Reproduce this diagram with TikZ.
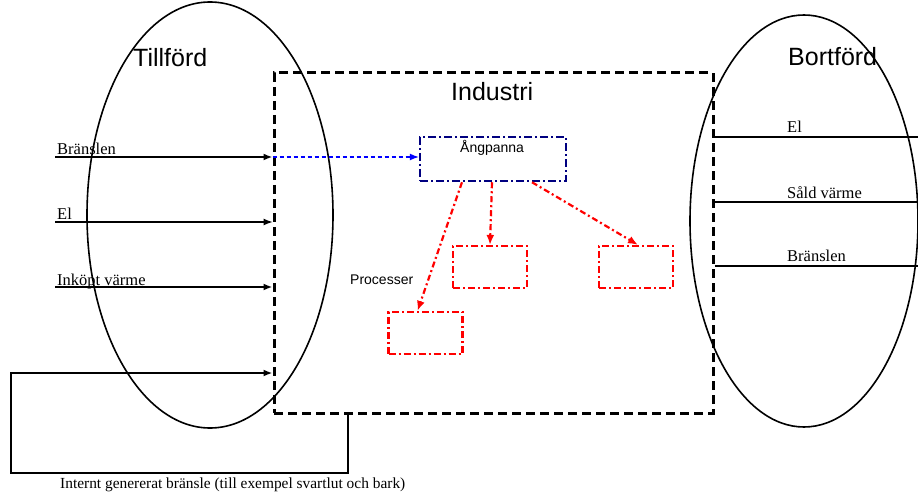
\documentclass[tikz,border=0pt]{standalone}
\usepackage{fontspec}
\setmainfont{Liberation Serif}
\newfontfamily\arialf{Liberation Sans}
\usetikzlibrary{shapes.geometric,arrows.meta}
\begin{document}
\begin{tikzpicture}[x=1pt,y=-1pt,
  oval/.style={draw, ellipse, line width=1.6pt, inner sep=0pt},
  indbox/.style={draw, line width=3pt, dash pattern=on 9pt off 5pt, inner sep=0pt},
  angbox/.style={draw=blue!50!black, line width=2.5pt, dash pattern=on 8pt off 3pt on 2pt off 3pt, inner sep=0pt},
  procbox/.style={draw=red, line width=2.2pt, dash pattern=on 7pt off 3pt on 2pt off 3pt, inner sep=0pt},
  tip/.style={-{Latex[length=9pt,width=7pt]}},
  thickarrow/.style={tip, line width=2.7pt},
  thinarrow/.style={tip, line width=1.1pt},
  outline/.style={line width=2.2pt},
  redarrow/.style={draw=red, line width=2.2pt, dash pattern=on 6pt off 3pt on 2pt off 3pt, -{Latex[length=10pt,width=8pt]}},
  bluearrow/.style={draw=blue, line width=1.1pt, dash pattern=on 4pt off 3pt, -{Latex[length=9pt,width=7pt]}},
  bigsans/.style={font=\arialf\fontsize{25}{30}\selectfont, inner sep=0pt, anchor=base west},
  smallsans/.style={font=\arialf\fontsize{14}{17}\selectfont, inner sep=0pt, anchor=base west},
  serif/.style={font=\fontsize{16.5}{19}\selectfont, inner sep=0pt, anchor=base west},
  serifb/.style={font=\fontsize{15.4}{18}\selectfont, inner sep=0pt, anchor=base west}
]
\useasboundingbox (0,0) rectangle (918,494);

% ellipses
\node[oval, minimum width=246pt, minimum height=426pt] (till) at (210,215) {};
\node[oval, minimum width=228pt, minimum height=412pt] (bort) at (804,221) {};

% industry box
\node[indbox, minimum width=439pt, minimum height=340pt] (ind) at (493.5,243) {};

% titles
\node[bigsans] (tilltxt) at (133,67) {Tillförd};
\node[bigsans] (indtxt) at (451,101) {Industri};
\node[bigsans] (borttxt) at (788,66) {Bortförd};

% Angpanna
\node[angbox, minimum width=146pt, minimum height=44pt] (ang) at (493,159) {};
\node[smallsans] (angtxt) at (460,153) {Ångpanna};

% process boxes
\node[procbox, minimum width=74pt, minimum height=42pt] (p1) at (490,267) {};
\node[procbox, minimum width=74pt, minimum height=42pt] (p2) at (636,267) {};
\node[procbox, minimum width=74pt, minimum height=42pt] (p3) at (425.5,333) {};
\node[smallsans] (proctxt) at (350,285) {Processer};

% red arrows
\draw[redarrow] ([xshift=-31pt]ang.south) -- ([xshift=-8pt]p3.north);
\draw[redarrow] ([xshift=-1pt]ang.south) -- (p1.north);
\draw[redarrow] ([xshift=39pt]ang.south) -- ([xshift=2pt]p2.north);

% left inputs
\coordinate (inB) at (55,157);
\coordinate (inE) at (55,222);
\coordinate (inV) at (55,287);
\draw[thickarrow] (inB) -- (inB -| ind.west);
\draw[thinarrow] (inE) -- (inE -| ind.west);
\draw[thickarrow] (inV) -- (inV -| ind.west);
\node[serif] (lB) at (57,155) {Bränslen};
\node[serif] (lE) at (57,220) {El};
\node[serif] (lV) at (57,286) {Inköpt värme};

% blue arrow
\draw[bluearrow] (inB -| ind.west) -- (inB -| ang.west);

% right outputs
\coordinate (oE) at (918,137);
\coordinate (oS) at (918,202);
\coordinate (oB) at (918,266);
\draw[outline] (oE -| ind.east) -- (oE);
\draw[outline] (oS -| ind.east) -- (oS);
\draw[outline] (oB -| ind.east) -- (oB);
\node[serif] (rE) at (787,133) {El};
\node[serif] (rS) at (787,199) {Såld värme};
\node[serif] (rB) at (787,262) {Bränslen};

% internal loop
\coordinate (lp1) at (348,473);
\coordinate (lp2) at (11,473);
\coordinate (lp3) at (11,373);
\draw[outline, tip] (ind.south -| lp1) -- (lp1) -- (lp2) -- (lp3) -- (lp3 -| ind.west);
\node[serifb] (inttxt) at (60,488) {Internt genererat bränsle (till exempel svartlut och bark)};
\end{tikzpicture}
\end{document}
